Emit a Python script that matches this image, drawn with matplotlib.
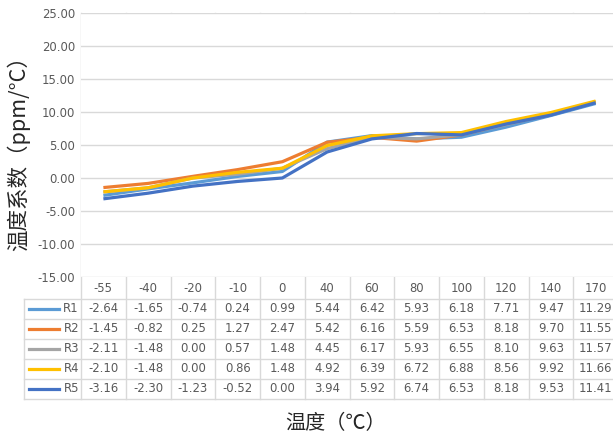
import numpy as np
import matplotlib.pyplot as plt
from matplotlib.transforms import blended_transform_factory
from matplotlib.lines import Line2D

plt.rcParams['font.family'] = ['Noto Sans CJK SC', 'DejaVu Sans']

# Daten
temps = ['-55', '-40', '-20', '-10', '0', '40', '60', '80', '100', '120', '140', '170']
names = ['R1', 'R2', 'R3', 'R4', 'R5']
R1 = [-2.64, -1.65, -0.74, 0.24, 0.99, 5.44, 6.42, 5.93, 6.18, 7.71, 9.47, 11.29]
R2 = [-1.45, -0.82, 0.25, 1.27, 2.47, 5.42, 6.16, 5.59, 6.53, 8.18, 9.70, 11.55]
R3 = [-2.11, -1.48, 0.00, 0.57, 1.48, 4.45, 6.17, 5.93, 6.55, 8.10, 9.63, 11.57]
R4 = [-2.10, -1.48, 0.00, 0.86, 1.48, 4.92, 6.39, 6.72, 6.88, 8.56, 9.92, 11.66]
R5 = [-3.16, -2.30, -1.23, -0.52, 0.00, 3.94, 5.92, 6.74, 6.53, 8.18, 9.53, 11.41]
series = [R1, R2, R3, R4, R5]
colors = ['#5B9BD5', '#ED7D31', '#A5A5A5', '#FFC000', '#4472C4']

W, H = 613, 438
grid_c = '#D9D9D9'
txt_c = '#595959'
num_font = 'DejaVu Sans'
fs = 8.4

fig = plt.figure(figsize=(W / 100, H / 100), dpi=100)
# Plotbereich geht rechts etwas über den Bildrand hinaus (wie im Original)
ax = fig.add_axes([81 / W, 1 - 277 / H, (618 - 81) / W, (277 - 13) / H])

x = np.arange(len(temps))
for s, c in zip(series, colors):
    ax.plot(x, s, color=c, lw=2.3, solid_capstyle='butt', zorder=3)

ax.set_xlim(-0.5, len(temps) - 0.5)
ax.set_ylim(-15, 25)
yt = np.arange(-15, 26, 5)
ax.set_yticks(yt)
ax.set_yticklabels(['%.2f' % v for v in yt], fontsize=fs, color=txt_c, family=num_font)
ax.set_xticks([])
for v in yt:
    ax.axhline(v, color=grid_c, lw=1, zorder=1)
for sp in ax.spines.values():
    sp.set_visible(False)
ax.tick_params(axis='y', length=0, pad=4.3)

# Tabelle unter dem Diagramm
tr = blended_transform_factory(ax.transData, fig.transFigure)
fy = lambda px: 1 - px / H
rows = [277, 299, 319, 339, 359, 379, 399]

# vertikale Linien (auch durch das Diagramm)
for b in np.arange(-0.5, len(temps), 1.0):
    fig.add_artist(Line2D([b, b], [fy(13), fy(rows[-1])], transform=tr, color=grid_c, lw=1, zorder=0))

# horizontale Linien
for r in rows[1:]:
    fig.add_artist(Line2D([24 / W, 1], [fy(r), fy(r)], color=grid_c, lw=1))
fig.add_artist(Line2D([24 / W, 24 / W], [fy(rows[1]), fy(rows[-1])], color=grid_c, lw=1))

# Kopfzeile
for i, t in enumerate(temps):
    fig.text(i, fy(289), t, transform=tr, ha='center', va='center',
             fontsize=fs, color=txt_c, family=num_font)

# Datenzeilen
for k, (n, s, c) in enumerate(zip(names, series, colors)):
    yc = fy((rows[k + 1] + rows[k + 2]) / 2)
    fig.add_artist(Line2D([29 / W, 59 / W], [yc, yc], color=c, lw=2.3))
    fig.text(79 / W, yc, n, ha='right', va='center', fontsize=fs, color=txt_c, family=num_font)
    for i, v in enumerate(s):
        fig.text(i, yc, '%.2f' % v, transform=tr, ha='center', va='center',
                 fontsize=fs, color=txt_c, family=num_font)

fig.text(18 / W, fy(148), '温度系数（ppm/°C）', rotation=90, ha='center', va='center',
         fontsize=15.5, color='#262626')
fig.text(336 / W, fy(424), '温度（℃）', ha='center', va='center', fontsize=14.5, color='#262626')

fig.savefig('out.png', dpi=100)
